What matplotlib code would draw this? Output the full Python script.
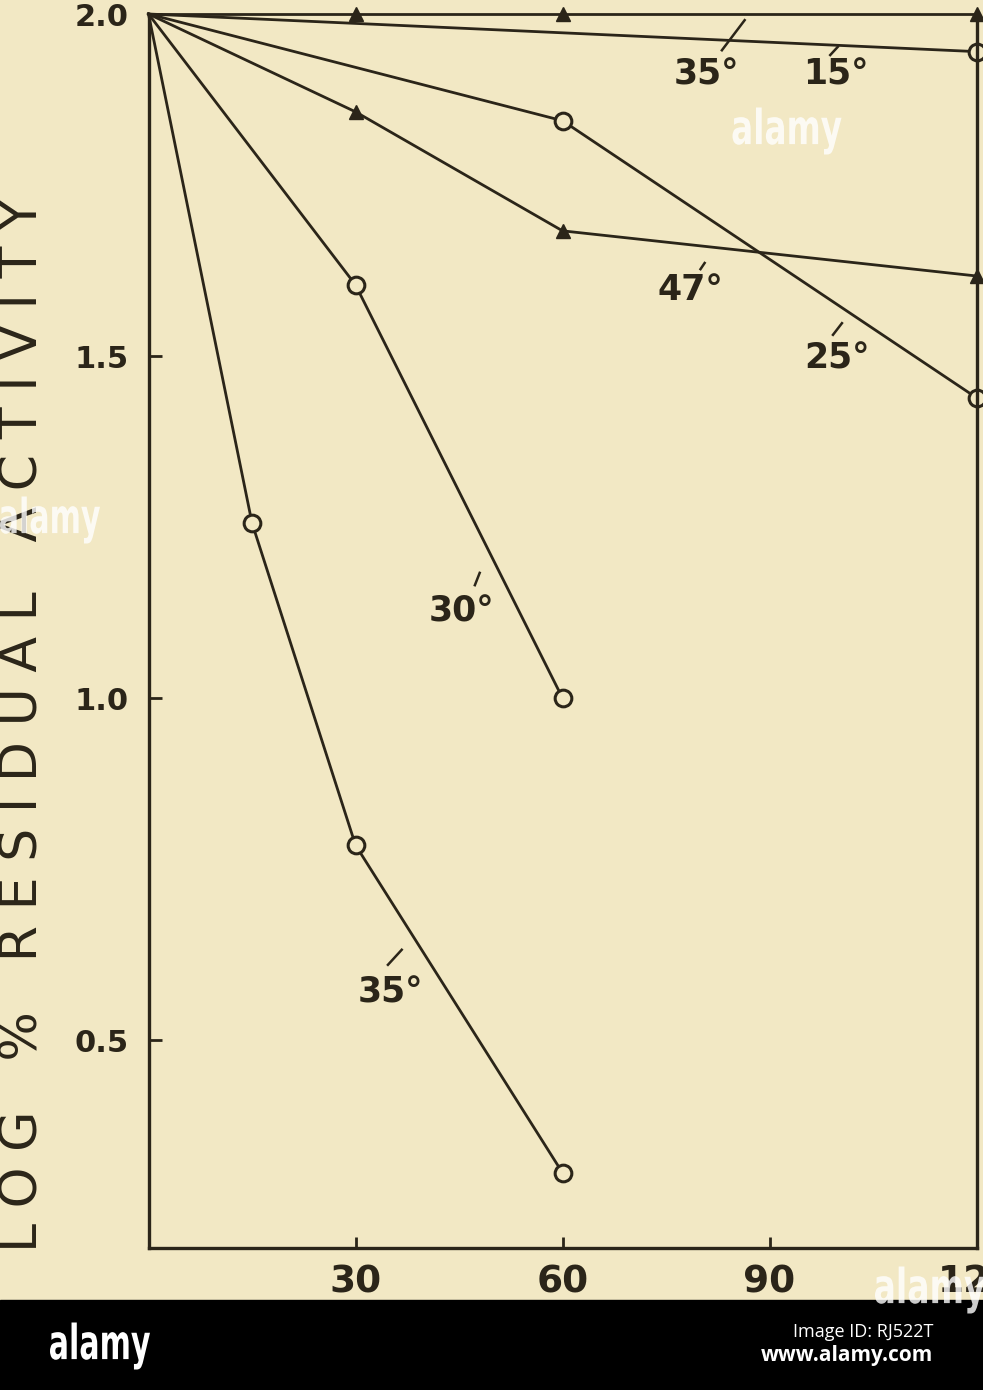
import matplotlib
matplotlib.use('Agg')
import matplotlib.pyplot as plt
from matplotlib.patches import Rectangle, PathPatch
from matplotlib.textpath import TextPath
from matplotlib.font_manager import FontProperties
from matplotlib.transforms import Affine2D

# minutes of heating
t_top_tri = [0, 30, 60, 120]
v_top_tri = [2.0, 2.0, 2.0, 2.0]
t_top_circ = [0, 120]
v_top_circ = [2.0, 1.945]
t_47 = [0, 30, 60, 120]
v_47 = [2.0, 1.857, 1.683, 1.617]
t_25 = [0, 60, 120]
v_25 = [2.0, 1.844, 1.439]
t_30 = [0, 30, 60]
v_30 = [2.0, 1.604, 1.0]
t_35 = [0, 15, 30, 60]
v_35 = [2.0, 1.256, 0.785, 0.306]

xticks = [30, 60, 90, 120]
yticks = [0.5, 1.0, 1.5, 2.0]
ytick_labels = ['0.5', '1.0', '1.5', '2.0']

# curve labels: text, position, leader slash (x0, y0, x1, y1)
lab_text = ['35°', '15°', '47°', '25°', '30°', '35°']
lab_x = [80.8, 99.6, 78.5, 99.8, 45.4, 35.0]
lab_y = [1.911, 1.911, 1.596, 1.497, 1.127, 0.569]
slash = [(83.1, 1.947, 86.4, 1.991), (98.8, 1.940, 99.9, 1.952),
         (80.0, 1.627, 80.6, 1.636), (99.2, 1.531, 100.5, 1.548),
         (47.3, 1.165, 48.0, 1.183), (34.7, 0.610, 36.7, 0.632)]

bg = '#f2e8c4'
ink = '#2b2519'

W, H = 983, 1390
fig = plt.figure(figsize=(W / 100, H / 100), dpi=100, facecolor=bg)
ax = fig.add_axes([148.5 / W, 142 / H, (976.5 - 148.5) / W, (1248 - 14) / H])
ax.set_facecolor(bg)

lw = 2.0
tri = dict(marker='^', ms=10, mfc=ink, mec=ink, markevery=slice(1, None))
circ = dict(marker='o', ms=12, mfc=bg, mec=ink, mew=2.2, markevery=slice(1, None))

ax.plot(t_top_tri, v_top_tri, color=ink, lw=lw, clip_on=False, **tri)
ax.plot(t_top_circ, v_top_circ, color=ink, lw=lw, clip_on=False, **circ)
ax.plot(t_47, v_47, color=ink, lw=lw, clip_on=False, **tri)
ax.plot(t_25, v_25, color=ink, lw=lw, clip_on=False, **circ)
ax.plot(t_30, v_30, color=ink, lw=lw, clip_on=False, **circ)
ax.plot(t_35, v_35, color=ink, lw=lw, clip_on=False, **circ)

for s, x, y, (x0, y0, x1, y1) in zip(lab_text, lab_x, lab_y, slash):
    ax.text(x, y, s, ha='center', va='center', fontsize=25,
            fontweight='bold', color=ink)
    ax.plot([x0, x1], [y0, y1], color=ink, lw=1.8)

ax.set_xlim(0, 120)
ax.set_ylim(0.196, 2.0)
ax.spines['top'].set_visible(False)
for side in ['left', 'bottom', 'right']:
    ax.spines[side].set_linewidth(2.4)
    ax.spines[side].set_color(ink)

ax.set_xticks(xticks)
ax.set_xticklabels([str(v) for v in xticks])
ax.set_yticks(yticks)
ax.set_yticklabels(ytick_labels)
ax.tick_params(axis='x', direction='in', length=8, width=2, color=ink,
               labelsize=27, pad=12, labelcolor=ink)
ax.tick_params(axis='y', direction='in', length=9, width=2, color=ink,
               labelsize=22, pad=14, labelcolor=ink)
for lab in ax.get_xticklabels() + ax.get_yticklabels():
    lab.set_fontweight('bold')

gap = '\u2009\u200a'
ylab = '   '.join(gap.join(w) for w in ['LOG', '%', 'RESIDUAL', 'ACTIVITY'])
fig.text(24 / W, 1 - 725 / H, ylab, rotation=90, ha='center', va='center',
         fontsize=37.5, color=ink)


def logo(cx, cy, w, h, alpha):
    # condensed "alamy" mark, centred at pixel (cx, cy) from the top-left
    tp = TextPath((0, 0), 'alamy', size=40,
                  prop=FontProperties(family='DejaVu Sans', weight='bold'))
    bb = tp.get_extents()
    tr = (Affine2D().translate(-bb.x0 - bb.width / 2, -bb.y0 - bb.height / 2)
          .scale(w / bb.width, h / bb.height).translate(cx, H - cy))
    fig.add_artist(PathPatch(tp, transform=tr, facecolor='white',
                             edgecolor='none', alpha=alpha, zorder=11))


# watermark
logo(787, 131, 109, 47, 0.8)
logo(50, 520, 100, 47, 0.8)
logo(930, 1290, 110, 47, 0.8)

fig.patches.append(Rectangle((0, 0), 1, 90 / H, transform=fig.transFigure,
                             color='black', zorder=10))
logo(100, 1346, 100, 47, 1.0)
fig.text(933 / W, 1 - 1332 / H, 'Image ID: RJ522T', fontsize=13, color='white',
         ha='right', va='center', family=['Open Sans', 'DejaVu Sans'], zorder=11)
fig.text(933 / W, 1 - 1356 / H, 'www.alamy.com', fontsize=15, color='white',
         ha='right', va='center', fontweight='bold', family=['Open Sans', 'DejaVu Sans'], zorder=11)

fig.savefig('out.png', dpi=100, facecolor=bg)
